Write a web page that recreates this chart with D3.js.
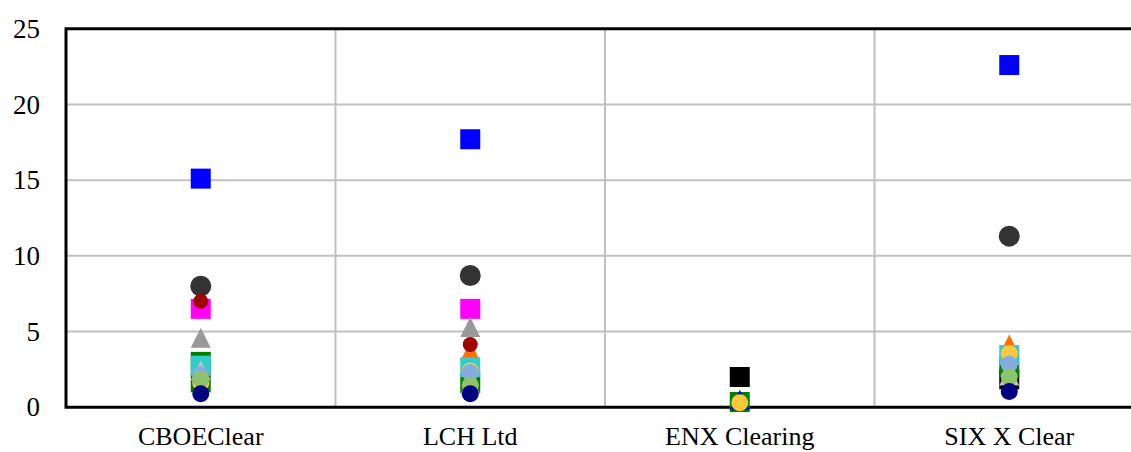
<!DOCTYPE html>
<html>
<head>
<meta charset="utf-8">
<script src="https://cdn.jsdelivr.net/npm/d3@7"></script>
<style>
  html, body { margin: 0; padding: 0; background: #fff; }
  svg { display: block; }
  text { font-family: "Liberation Serif", "Times New Roman", serif; fill: #000; }
</style>
</head>
<body>
<svg id="chart" width="1131" height="452"></svg>
<script>
// ---- data ----
const categories = ["CBOEClear", "LCH Ltd", "ENX Clearing", "SIX X Clear"];
const yTicks = [0, 5, 10, 15, 20, 25];

const blueSquare        = [15.1, 17.7, null, 22.6];
const darkGrayCircle    = [8.0, 8.7, null, 11.3];
const magentaSquare     = [6.5, 6.5, null, null];
const grayTriangle      = [4.6, 5.3, null, null];
const orangeTriangle    = [null, 3.7, null, 4.15];
const darkRedCircle     = [7.0, 4.15, null, null];
const blackSquare       = [null, null, 2.0, 1.85];
const greenSquare       = [3.0, 1.6, 0.35, 2.65];
const darkGreenSquare   = [1.65, null, null, null];
const turquoiseSquare   = [2.75, 2.65, null, 3.45];
const blueTriangle      = [null, null, 0.5, null];
const lightGrayTriangle = [2.45, 1.5, null, 2.1];
const yellowCircle      = [1.6, 2.4, 0.3, 3.55];
const lightBlueCircle   = [2.15, 2.3, null, 2.85];
const lightGreenCircle  = [1.85, 1.45, null, 2.0];
const navyCircle        = [0.9, 0.9, null, 1.05];

// drawing order (bottom to top) with marker styles
const series = [
  { values: blueSquare,        shape: "square",   color: "#0000FF", size: 20 },
  { values: darkGrayCircle,    shape: "circle",   color: "#333333", size: 21 },
  { values: magentaSquare,     shape: "square",   color: "#FF00FF", size: 20 },
  { values: grayTriangle,      shape: "triangle", color: "#999999", size: 20 },
  { values: orangeTriangle,    shape: "triangle", color: "#FF7000", size: 20 },
  { values: darkRedCircle,     shape: "circle",   color: "#A00000", size: 15 },
  { values: blackSquare,       shape: "square",   color: "#000000", size: 20 },
  { values: greenSquare,       shape: "square",   color: "#008000", size: 20 },
  { values: darkGreenSquare,   shape: "square",   color: "#007A00", size: 20 },
  { values: turquoiseSquare,   shape: "square",   color: "#33CCCC", size: 20 },
  { values: blueTriangle,      shape: "triangle", color: "#0000FF", size: 20 },
  { values: lightGrayTriangle, shape: "triangle", color: "#BFBFBF", size: 20 },
  { values: yellowCircle,      shape: "circle",   color: "#FFC83A", size: 17 },
  { values: lightBlueCircle,   shape: "circle",   color: "#84ACDD", size: 17 },
  { values: lightGreenCircle,  shape: "circle",   color: "#8FC26C", size: 17 },
  { values: navyCircle,        shape: "circle",   color: "#000080", size: 17 }
];

// ---- layout ----
const svg = d3.select("#chart");
const plotLeft = 66, plotRight = 1144, plotTop = 28.7, plotBottom = 407.3;

const x = d3.scaleBand().domain(categories).range([plotLeft, plotRight]).paddingInner(0).paddingOuter(0);
const y = d3.scaleLinear().domain([0, 25]).range([plotBottom, plotTop]);

// gridlines
const grid = svg.append("g");
grid.selectAll("line.h").data(yTicks.filter(t => t > 0 && t < 25)).enter().append("line")
  .attr("x1", plotLeft).attr("x2", 1131)
  .attr("y1", d => y(d)).attr("y2", d => y(d))
  .attr("stroke", "#C0C0C0").attr("stroke-width", 2);
grid.selectAll("line.v").data(categories.slice(1)).enter().append("line")
  .attr("x1", d => x(d)).attr("x2", d => x(d))
  .attr("y1", plotTop).attr("y2", plotBottom)
  .attr("stroke", "#C0C0C0").attr("stroke-width", 2);

// y axis labels
const yAxis = d3.axisLeft(y).tickValues(yTicks).tickSize(0).tickPadding(26);
const ya = svg.append("g").attr("transform", `translate(${plotLeft},0)`).call(yAxis);
ya.select(".domain").remove();
ya.selectAll("text").style("font-size", "27px").style("font-family", '"Liberation Serif", serif').attr("fill", "#000");

// x axis labels
const xAxis = d3.axisBottom(x).tickSize(0).tickPadding(19);
const xa = svg.append("g").attr("transform", `translate(0,${plotBottom})`).call(xAxis);
xa.select(".domain").remove();
xa.selectAll("text").style("font-size", "26px").style("font-family", '"Liberation Serif", serif').attr("fill", "#000");

// plot border (top, left, bottom)
svg.append("path")
  .attr("d", `M${plotRight},${plotTop}H${plotLeft}V${plotBottom}H${plotRight}`)
  .attr("fill", "none").attr("stroke", "#000").attr("stroke-width", 3);

// markers
function markerPath(shape, s) {
  const h = s / 2;
  if (shape === "square") return `M${-h},${-h}H${h}V${h}H${-h}Z`;
  if (shape === "triangle") return `M0,${-h}L${h},${h}L${-h},${h}Z`;
  return d3.arc()({ innerRadius: 0, outerRadius: h, startAngle: 0, endAngle: 2 * Math.PI });
}

const marks = svg.append("g");
series.forEach(s => {
  const pts = categories.map((c, i) => ({ c, v: s.values[i] })).filter(d => d.v != null);
  marks.append("g").selectAll("path").data(pts).enter().append("path")
    .attr("d", markerPath(s.shape, s.size))
    .attr("transform", d => `translate(${x(d.c) + x.bandwidth() / 2},${y(d.v)})`)
    .attr("fill", s.color);
});
</script>
</body>
</html>
